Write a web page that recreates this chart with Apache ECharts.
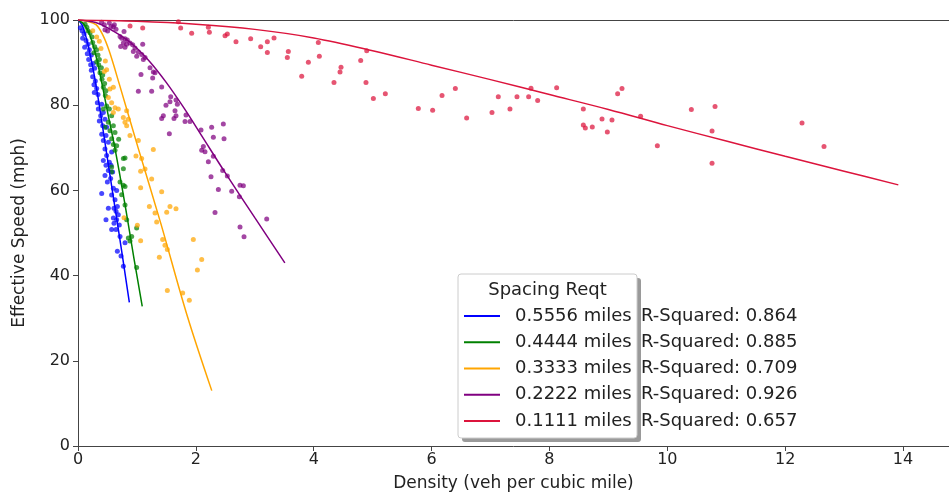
<!DOCTYPE html>
<html>
<head>
<meta charset="utf-8">
<script src="https://cdn.jsdelivr.net/npm/echarts@6/dist/echarts.min.js"></script>
<style>html,body{margin:0;padding:0;background:#fff}#c{width:949px;height:497px}</style>
</head>
<body>
<div id="c"></div>
<script>
// ---- Data ----
const legendNames = ['0.5556 miles', '0.4444 miles', '0.3333 miles', '0.2222 miles', '0.1111 miles'];
const rSquared = ['R-Squared: 0.864', 'R-Squared: 0.885', 'R-Squared: 0.709', 'R-Squared: 0.926', 'R-Squared: 0.657'];
const xTicks = [0, 2, 4, 6, 8, 10, 12, 14];
const yTicks = [0, 20, 40, 60, 80, 100];

// 0.5556 miles (blue) scatter
const blueX = [0.04,0.068,0.102,0.079,0.136,0.170,0.113,0.192,0.158,0.226,0.181,0.215,0.260,0.226,0.283,0.249,0.294,0.271,0.317,0.277,0.339,
  0.328,0.402,0.345,0.430,0.385,0.362,0.458,0.419,0.486,0.402,0.475,0.430,0.515,0.458,0.486,0.430,0.532,0.475,0.515,0.458,0.498,0.402,0.515,0.475,
  0.571,0.560,0.588,0.554,0.600,0.656,0.571,0.628,0.668,0.611,0.645,0.684,0.600,0.656,0.611,0.701,0.571,0.645,0.713,0.798,0.668,0.730,0.770];
const blueY = [98.2,97.5,96.8,95.7,95.2,94.3,93.6,93.0,92.1,91.8,90.7,89.5,89.8,88.2,88.7,86.7,85.7,84.8,83.9,83.0,82.5,
  80.6,80.2,79.1,78.3,77.5,76.3,76.7,75.2,74.8,73.2,72.9,71.7,71.3,69.7,68.2,67.0,66.6,65.9,64.7,63.5,62.0,59.3,55.8,53.1,
  69.0,65.9,64.3,62.8,60.5,60.0,58.9,57.8,56.2,55.8,55.1,54.3,53.5,53.1,52.3,51.9,50.8,50.8,49.2,47.7,45.7,44.6,42.2];

// 0.4444 miles (green) scatter
const greenX = [0.12,0.15,0.17,0.204,0.238,0.249,0.283,0.317,0.271,0.339,0.362,0.317,0.351,0.396,0.373,0.419,0.407,0.452,0.430,0.475,0.464,
  0.486,0.430,0.532,0.571,0.515,0.600,0.458,0.543,0.628,0.571,0.690,0.656,0.600,
  0.628,0.770,0.798,0.571,0.770,0.571,0.713,0.770,0.798,0.741,0.798,0.826,0.995,0.911,0.854,0.882,0.995];
const greenY = [99.0,98.3,97.5,97.0,96.0,94.7,93.7,93.0,92.3,91.8,90.7,90.2,89.5,88.8,87.6,87.1,86.1,85.1,84.2,83.4,82.3,
  79.8,79.1,79.1,77.5,76.0,75.2,74.8,74.0,73.6,72.1,72.0,70.5,70.8,
  69.4,67.5,67.6,65.5,65.1,64.3,62.0,61.2,60.9,59.0,56.6,53.1,51.2,49.2,48.8,48.1,41.9];

// 0.3333 miles (orange) scatter
const orangeX = [0.25,0.317,0.362,0.390,0.464,0.486,0.447,0.532,0.600,0.543,0.515,0.571,0.628,0.684,0.600,
  0.826,0.769,0.797,0.854,0.826,0.882,1.024,1.278,
  0.984,1.080,1.063,1.137,1.250,1.063,1.420,1.211,1.307,1.505,1.561,1.663,0.781,1.335,1.007,1.063,1.437,1.476,1.516,1.957,1.380,2.099,2.026,1.516,1.776,1.889];
const orangeY = [97.5,96.0,95.0,93.3,90.4,88.3,87.9,86.1,84.2,83.8,81.8,80.6,79.4,79.1,78.3,
  78.7,77.1,76.0,76.7,75.2,72.9,71.7,69.6,
  68.1,67.5,64.5,65.0,62.7,60.6,59.7,56.2,54.7,54.9,56.2,55.7,53.6,52.6,51.8,48.2,48.5,47.1,46.1,48.5,44.3,43.8,41.3,36.5,35.9,34.2];

// 0.2222 miles (purple) scatter
const purpleX = [0.40,0.447,0.532,0.560,0.503,0.617,0.645,0.458,0.60,
  0.781,0.713,0.741,0.798,0.837,0.770,0.826,0.883,0.724,0.798,0.928,0.967,0.939,1.024,1.098,0.996,1.081,1.109,1.137,1.222,1.279,1.307,1.069,1.267,1.420,1.024,1.250,
  1.573,1.561,1.663,1.493,1.686,1.646,1.833,1.448,1.420,1.663,1.629,1.816,1.901,1.550,2.087,2.268,2.466,2.297,2.478,2.127,2.099,2.155,2.297,2.212,2.455,2.534,2.257,2.749,2.806,2.382,2.608,2.738,2.325,3.202,2.749,2.817];
const purpleY = [99.5,98.9,99.3,98.5,97.4,98.9,97.8,97.7,98.4,
  97.3,96.1,95.7,95.6,95.3,94.6,94.3,94.6,93.8,93.6,94.2,93.4,92.6,92.5,94.3,91.5,91.9,90.7,91.2,88.8,87.8,87.6,87.2,86.4,84.3,83.3,83.3,
  82.0,80.8,81.2,80.0,80.2,78.7,77.7,77.5,76.9,77.5,76.9,76.2,76.2,73.3,74.2,74.8,75.6,72.5,72.1,70.3,69.4,69.1,68.0,66.7,64.7,63.4,63.2,61.2,61.1,60.2,59.8,58.5,54.8,53.3,51.4,49.1];

// 0.1111 miles (crimson) scatter
const redX = [0.883,1.098,1.703,1.742,1.929,2.212,2.229,2.495,2.534,2.681,2.930,3.100,3.213,3.213,3.326,3.552,3.569,3.796,3.909,4.078,4.095,4.344,4.446,4.463,4.797,4.887,4.899,5.012,5.215,5.775,6.018,6.177,
  6.403,6.595,7.025,7.132,7.330,7.449,7.647,7.687,7.800,8.122,8.575,8.575,8.609,8.727,8.892,8.982,9.061,9.157,9.231,9.547,9.831,10.408,10.759,10.759,10.810,12.286,12.659];
const redY = [98.6,98.1,99.6,98.1,96.9,98.3,97.1,96.3,96.7,94.9,95.6,93.7,94.9,92.4,95.8,91.2,92.6,86.8,90.1,94.7,91.5,85.3,87.8,88.9,90.5,85.3,92.8,81.6,82.7,79.2,78.8,82.3,
  83.9,77.0,78.3,82.0,79.1,82.0,82.0,84.0,81.1,84.1,79.1,75.35,74.65,74.9,76.75,73.7,76.5,82.7,83.9,77.4,70.5,79.0,73.96,66.4,79.7,75.8,70.3];

// fitted curves
const blueLineX = [0,0.07,0.14,0.22,0.3,0.4,0.543,0.7,0.871];
const blueLineY = [100,98.8,95.8,91,85.2,76.5,63.5,49.5,33.7];
const greenLineX = [0,0.1,0.2,0.3,0.4,0.5,0.628,0.8,0.95,1.09];
const greenLineY = [100,99,96.5,91.8,85.5,78.5,69.8,56.5,44,32.8];
const orangeLineX = [0,0.15,0.305,0.42,0.53,0.7,1.024,1.4,1.844,2.27];
const orangeLineY = [100,99.7,98.9,96.5,92.7,85.0,69.8,52.5,31,13];
const purpleLineX = [0,0.3,0.6,0.9,1.2,1.5,1.8,2.1,2.5,3.0,3.51];
const purpleLineY = [100,99.4,97.4,94.6,90.5,85.3,79.3,72.8,64.1,53.6,43];
const redLineX = [0,1,2,3,4,5,6,7,8,9,10,11,12,13,13.92];
const redLineY = [100,99.7,99,97.8,95.8,92.8,89.4,86,82.5,79,75.2,71.6,68,64.5,61.3];

const colors = ['#0000ff', '#008000', '#ffa500', '#800080', '#dc143c'];

// ---- Build ----
const zip = (xs, ys) => xs.map((x, i) => [x, ys[i]]);
const scatterSets = [[blueX, blueY], [greenX, greenY], [orangeX, orangeY], [purpleX, purpleY], [redX, redY]];
const lineSets = [[blueLineX, blueLineY], [greenLineX, greenLineY], [orangeLineX, orangeLineY], [purpleLineX, purpleLineY], [redLineX, redLineY]];

const series = [];
scatterSets.forEach((s, i) => {
  series.push({
    type: 'scatter', name: 'pts' + i, data: zip(s[0], s[1]),
    symbolSize: 5, itemStyle: { color: colors[i], opacity: 0.72 }, z: 2, silent: true
  });
});
lineSets.forEach((s, i) => {
  series.push({
    type: 'line', name: legendNames[i], data: zip(s[0], s[1]),
    showSymbol: false, smooth: 0.35, lineStyle: { color: colors[i], width: 1.5 },
    itemStyle: { color: colors[i] }, z: 3, silent: true
  });
});

const FONT = 'DejaVu Sans';
const rowY = [316, 342, 368, 394, 421];
const graphics = [
  { type: 'rect', shape: { x: 462, y: 278, width: 179, height: 164, r: 3 }, style: { fill: '#9a9a9a' }, z: 10 },
  { type: 'rect', shape: { x: 458, y: 274, width: 179, height: 164, r: 3 }, style: { fill: '#ffffff', stroke: '#cccccc', lineWidth: 1 }, z: 11 },
  { type: 'text', x: 547.5, y: 290, style: { text: 'Spacing Reqt', font: '18px "' + FONT + '"', fill: '#222', align: 'center', verticalAlign: 'middle' }, z: 12 }
];
rSquared.forEach((t, i) => {
  graphics.push({ type: 'text', x: 641, y: rowY[i], style: { text: t, font: '18px "' + FONT + '"', fill: '#222', align: 'left', verticalAlign: 'middle' }, z: 12 });
});

const chart = echarts.init(document.getElementById('c'), null, { renderer: 'canvas' });
chart.setOption({
  animation: false,
  textStyle: { fontFamily: FONT },
  grid: { left: 78, right: 0, top: 20, bottom: 47, containLabel: false },
  xAxis: [{
    type: 'value', min: 0, max: 14.78, interval: 2,
    name: 'Density (veh per cubic mile)', nameLocation: 'middle', nameGap: 29,
    nameTextStyle: { fontSize: 17, color: '#222', fontFamily: FONT },
    axisLine: { show: true, lineStyle: { color: '#444', width: 1 } },
    axisTick: { show: true, inside: false, length: 5, lineStyle: { color: '#444' }, customValues: xTicks },
    axisLabel: { fontSize: 16, color: '#222', margin: 6, fontFamily: FONT, customValues: xTicks },
    splitLine: { show: false }
  }, {
    type: 'value', position: 'top', min: 0, max: 14.78,
    axisLine: { show: true, onZero: false, lineStyle: { color: '#444', width: 1 } },
    axisTick: { show: false }, axisLabel: { show: false }, splitLine: { show: false }
  }],
  yAxis: {
    type: 'value', min: 0, max: 100, interval: 20,
    name: 'Effective Speed (mph)', nameLocation: 'middle', nameGap: 49,
    nameTextStyle: { fontSize: 17, color: '#222', fontFamily: FONT },
    axisLine: { show: true, lineStyle: { color: '#444', width: 1 } },
    axisTick: { show: true, inside: false, length: 5, lineStyle: { color: '#444' }, customValues: yTicks },
    axisLabel: { fontSize: 16, color: '#222', margin: 8, fontFamily: FONT, customValues: yTicks },
    splitLine: { show: false }
  },
  legend: {
    data: legendNames, orient: 'vertical', left: 464, top: 303, padding: 0,
    itemGap: 0, itemWidth: 36, itemHeight: 2, icon: 'rect',
    textStyle: { fontSize: 18, color: '#222', lineHeight: 26.2, fontFamily: FONT, padding: [0, 0, 0, 10] },
    selectedMode: false, z: 13
  },
  graphic: graphics,
  series: series
});
</script>
</body>
</html>
